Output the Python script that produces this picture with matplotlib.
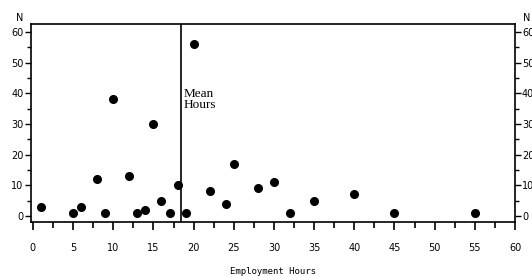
import matplotlib
matplotlib.use("Agg")
import matplotlib.pyplot as plt
import numpy as np
from matplotlib.ticker import MultipleLocator

# employment hours per week and number of respondents (N)
hours = [1, 5, 6, 8, 9, 10, 12, 13, 14, 15, 16, 17, 18, 19, 20,
         22, 24, 25, 28, 30, 32, 35, 40, 45, 55]
counts = [3, 1, 3, 12, 1, 38, 13, 1, 2, 30, 5, 1, 10, 1, 56,
          8, 4, 17, 9, 11, 1, 5, 7, 1, 1]

xticks = [0, 5, 10, 15, 20, 25, 30, 35, 40, 45, 50, 55, 60]
yticks = [0, 10, 20, 30, 40, 50, 60]

mean_hours = np.sum(np.array(hours) * np.array(counts)) / np.sum(counts)

fig = plt.figure(figsize=(5.32, 2.76), dpi=100)
ax = fig.add_axes([30.5 / 532, 1 - 222 / 276, (515 - 30.5) / 532, (222 - 24) / 276])

ax.plot(hours, counts, 'o', color='black', markersize=5.5)
ax.axvline(mean_hours, color='black', linewidth=1.2)
ax.text(mean_hours + 0.3, 38, "Mean\nHours", family='Liberation Serif',
        fontsize=9.5, va='center', ha='left', linespacing=0.9)

ax.set_xlim(-0.3, 60)
ax.set_ylim(-2, 62.6)
ax.set_xticks(xticks)
ax.set_yticks(yticks)
ax.xaxis.set_minor_locator(MultipleLocator(2.5))
ax.yaxis.set_minor_locator(MultipleLocator(5))

ax.tick_params(axis='x', which='major', direction='out', length=6, width=1.2,
               pad=9, labelsize=7)
ax.tick_params(axis='x', which='minor', direction='out', length=4, width=1.2)
ax.tick_params(axis='y', which='major', direction='out', length=4, width=1,
               labelsize=7, pad=1, right=True, labelright=True)
ax.tick_params(axis='y', which='minor', direction='out', length=3, width=1,
               right=True)

for s in ax.spines.values():
    s.set_linewidth(1.2)

fig.text(20 / 532, 1 - 18 / 276, "N", fontsize=7, ha='center', va='center')
fig.text(527 / 532, 1 - 18 / 276, "N", fontsize=7, ha='center', va='center')
fig.text(273 / 532, 1 - 271 / 276, "Employment Hours", family='DejaVu Sans Mono',
         fontsize=6.5, ha='center', va='center')

fig.savefig("out.png", dpi=100)
